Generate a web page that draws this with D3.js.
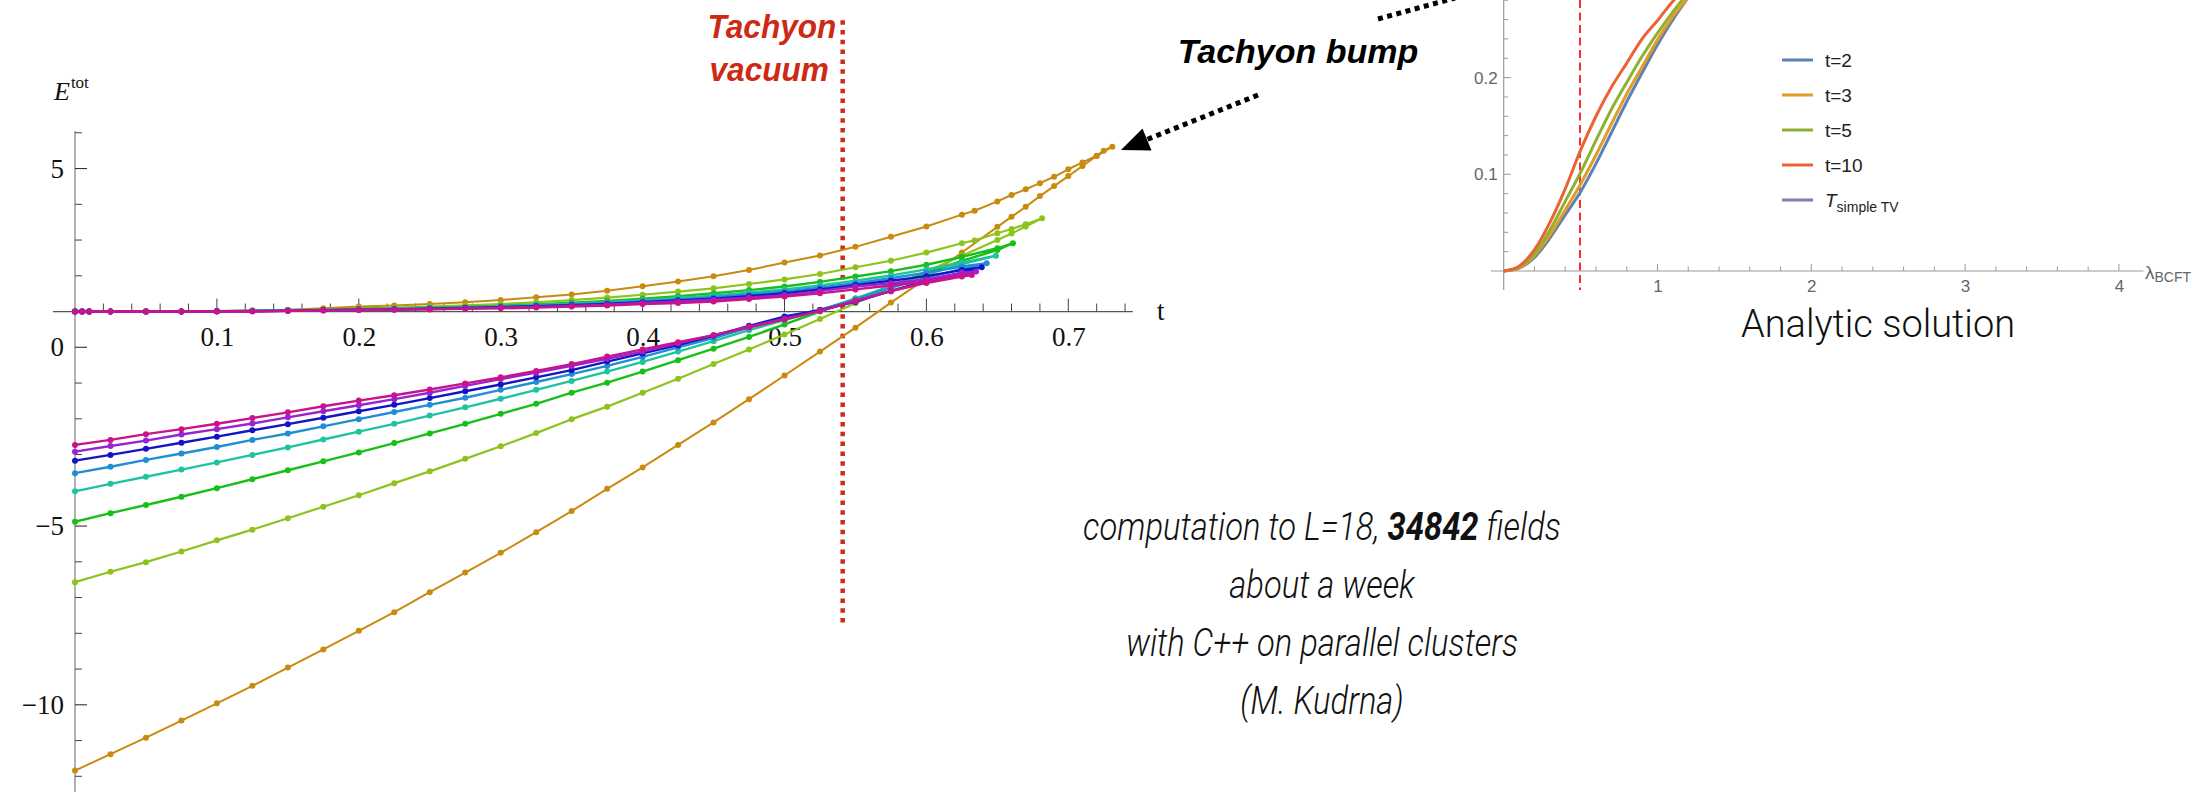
<!DOCTYPE html>
<html>
<head>
<meta charset="utf-8">
<script src="https://cdn.jsdelivr.net/npm/d3@7/dist/d3.min.js"></script>
<style>
  body { margin: 0; background: #fff; }
  svg { display: block; }
</style>
</head>
<body>
<svg id="chart"></svg>
<script>
// t grid of the lower branches and of the upper branches (upper has two extra points near 0)
const tGrid = [0, 0.025, 0.05, 0.075, 0.1, 0.125, 0.15, 0.175, 0.2, 0.225, 0.25, 0.275, 0.3,
  0.325, 0.35, 0.375, 0.4, 0.425, 0.45, 0.475, 0.5, 0.525, 0.55, 0.575, 0.6, 0.625];
const tUpGrid = [0, 0.005, 0.01, 0.025, 0.05, 0.075, 0.1, 0.125, 0.15, 0.175, 0.2, 0.225, 0.25, 0.275,
  0.3, 0.325, 0.35, 0.375, 0.4, 0.425, 0.45, 0.475, 0.5, 0.525, 0.55, 0.575, 0.6, 0.625];

// E^tot along each branch (lower: rising from t=0, turn: around max t, upper: back to t=0)
const orangeLow = [-11.84, -11.38, -10.92, -10.44, -9.96, -9.47, -8.96, -8.45, -7.93, -7.41, -6.85, -6.30, -5.75,
  -5.17, -4.58, -3.96, -3.36, -2.73, -2.10, -1.45, -0.79, -0.12, 0.55, 1.25, 1.93, 2.65];
const orangeTurn = [[0.65, 3.37], [0.66, 3.65], [0.67, 3.93], [0.68, 4.23], [0.69, 4.51], [0.70, 4.79], [0.71, 5.07],
  [0.72, 5.35], [0.731, 5.61], [0.725, 5.50], [0.72, 5.36], [0.71, 5.17], [0.70, 4.98], [0.69, 4.77], [0.68, 4.59],
  [0.67, 4.42], [0.66, 4.26], [0.65, 4.08], [0.634, 3.82]];
const orangeUp = [1, 1, 1, 1, 1, 1.01, 1.01, 1.03, 1.05, 1.09, 1.14, 1.17, 1.21, 1.26, 1.32, 1.40, 1.48, 1.58,
  1.71, 1.84, 1.99, 2.16, 2.37, 2.57, 2.81, 3.09, 3.38, 3.71];

const yellowGreenLow = [-6.57, -6.28, -6.01, -5.71, -5.40, -5.10, -4.78, -4.46, -4.14, -3.80, -3.47, -3.12, -2.77,
  -2.40, -2.01, -1.66, -1.27, -0.88, -0.47, -0.06, 0.36, 0.79, 1.23, 1.68, 2.12, 2.56];
const yellowGreenTurn = [[0.65, 3.0], [0.66, 3.18], [0.67, 3.38], [0.6815, 3.61], [0.67, 3.44], [0.66, 3.31],
  [0.65, 3.19], [0.634, 2.99]];
const yellowGreenUp = [1, 1, 1, 1, 1, 1, 1.01, 1.02, 1.04, 1.06, 1.09, 1.11, 1.14, 1.17, 1.21, 1.26, 1.32, 1.39,
  1.47, 1.56, 1.65, 1.77, 1.90, 2.05, 2.24, 2.42, 2.65, 2.91];

const greenLow = [-4.88, -4.64, -4.41, -4.18, -3.94, -3.69, -3.44, -3.19, -2.94, -2.68, -2.41, -2.14, -1.86,
  -1.58, -1.27, -0.99, -0.68, -0.36, -0.04, 0.29, 0.64, 1.0, 1.35, 1.72, 2.08, 2.42];
const greenTurn = [[0.65, 2.72], [0.661, 2.91], [0.65, 2.77]];
const greenUp = [1, 1, 1, 1, 1, 1, 1.01, 1.02, 1.03, 1.05, 1.07, 1.09, 1.11, 1.13, 1.16, 1.20, 1.25, 1.30,
  1.36, 1.43, 1.51, 1.60, 1.70, 1.83, 1.98, 2.13, 2.31, 2.53];

const tealLow = [-4.03, -3.82, -3.62, -3.42, -3.22, -3.01, -2.80, -2.58, -2.36, -2.14, -1.91, -1.68, -1.44,
  -1.19, -0.94, -0.68, -0.41, -0.12, 0.17, 0.48, 0.76, 1.02, 1.37, 1.71, 2.03, 2.33];
const tealTurn = [[0.649, 2.56]];
const tealUp = [1, 1, 1, 1, 1, 1, 1.01, 1.02, 1.03, 1.04, 1.06, 1.08, 1.09, 1.12, 1.14, 1.18, 1.22, 1.26,
  1.32, 1.38, 1.45, 1.53, 1.62, 1.73, 1.86, 2.01, 2.18, 2.37];

const lightBlueLow = [-3.52, -3.34, -3.15, -2.97, -2.79, -2.59, -2.41, -2.21, -2.01, -1.81, -1.61, -1.41, -1.19,
  -0.97, -0.75, -0.52, -0.27, 0.0, 0.26, 0.55, 0.82, 1.05, 1.34, 1.66, 1.95, 2.19];
const lightBlueTurn = [[0.6425, 2.35]];
const lightBlueUp = [1, 1, 1, 1, 1, 1, 1.01, 1.02, 1.03, 1.04, 1.06, 1.07, 1.09, 1.11, 1.13, 1.16, 1.20, 1.24,
  1.29, 1.34, 1.40, 1.48, 1.56, 1.67, 1.79, 1.93, 2.09, 2.26];

const blueLow = [-3.17, -3.01, -2.84, -2.67, -2.50, -2.32, -2.15, -1.97, -1.79, -1.61, -1.42, -1.23, -1.04,
  -0.84, -0.64, -0.40, -0.17, 0.06, 0.32, 0.60, 0.86, 1.04, 1.27, 1.58, 1.86, 2.08];
const blueTurn = [[0.639, 2.24]];
const blueUp = [1, 1, 1, 1, 1, 1, 1.01, 1.01, 1.02, 1.04, 1.05, 1.06, 1.08, 1.10, 1.12, 1.15, 1.18, 1.21,
  1.26, 1.31, 1.36, 1.43, 1.51, 1.62, 1.74, 1.86, 1.99, 2.16];

const purpleLow = [-2.92, -2.76, -2.61, -2.44, -2.29, -2.13, -1.96, -1.79, -1.62, -1.45, -1.27, -1.08, -0.89,
  -0.71, -0.52, -0.32, -0.12, 0.11, 0.34, 0.58, 0.80, 1.02, 1.29, 1.57, 1.82, 2.03];
const purpleTurn = [[0.635, 2.12]];
const purpleUp = [1, 1, 1, 1, 1, 1, 1.01, 1.01, 1.02, 1.03, 1.05, 1.06, 1.07, 1.09, 1.11, 1.13, 1.16, 1.19,
  1.24, 1.28, 1.33, 1.39, 1.46, 1.57, 1.70, 1.79, 1.90, 2.09];

const magentaLow = [-2.73, -2.59, -2.43, -2.29, -2.14, -1.98, -1.82, -1.65, -1.49, -1.34, -1.18, -1.01, -0.84,
  -0.66, -0.47, -0.26, -0.06, 0.14, 0.34, 0.56, 0.78, 1.02, 1.30, 1.57, 1.80, 1.98];
const magentaTurn = [[0.632, 2.02]];
const magentaUp = [1, 1, 1, 1, 1, 1, 1, 1.01, 1.02, 1.03, 1.04, 1.05, 1.06, 1.08, 1.09, 1.11, 1.14, 1.17,
  1.21, 1.24, 1.28, 1.35, 1.42, 1.51, 1.62, 1.73, 1.84, 2.02];

const yMajorTicks = [-10, -5, 0, 5];
const tLabelTicks = [0.1, 0.2, 0.3, 0.4, 0.5, 0.6, 0.7];
const vacuumT = 0.541;

// inset: analytic solution
const lambdaGrid = [0, 0.1, 0.2, 0.3, 0.4, 0.5, 0.6, 0.7, 0.8, 0.9, 1.0, 1.1, 1.2];
const insetT2 = [0, 0.003, 0.014, 0.034, 0.058, 0.082, 0.111, 0.143, 0.175, 0.205, 0.234, 0.26, 0.283];
const insetT3 = [0, 0.003, 0.016, 0.037, 0.063, 0.09, 0.12, 0.152, 0.183, 0.211, 0.239, 0.263, 0.283];
const insetT5 = [0, 0.004, 0.018, 0.042, 0.072, 0.102, 0.135, 0.167, 0.195, 0.222, 0.246, 0.268, 0.288];
const insetT10 = [0, 0.005, 0.022, 0.05, 0.085, 0.125, 0.16, 0.19, 0.215, 0.24, 0.259, 0.279, 0.295];
const insetXLabels = [1, 2, 3, 4];
const insetYLabels = [0.1, 0.2];
const insetVacuum = 0.496;

const W = 2201, H = 792;
const svg = d3.select("#chart").attr("width", W).attr("height", H);

// ---------- main plot ----------
const x = d3.scaleLinear().domain([0, 0.74]).range([75, 75 + 0.74 * 1419]);
const y = d3.scaleLinear().domain([-12, 6]).range([347.3 + 12 * 35.75, 347.3 - 6 * 35.75]);
const serif = "'Liberation Serif', 'Times New Roman', serif";

const main = svg.append("g");

// vertical E axis
main.append("line")
    .attr("x1", x(0)).attr("x2", x(0))
    .attr("y1", y(6.05)).attr("y2", H)
    .attr("stroke", "#888").attr("stroke-width", 1.3);

const yMinor = d3.range(-12, 7).filter(v => !yMajorTicks.includes(v));
main.selectAll(".yminor").data(yMinor).enter().append("line")
    .attr("x1", x(0)).attr("x2", x(0) + 7)
    .attr("y1", d => y(d)).attr("y2", d => y(d))
    .attr("stroke", "#444").attr("stroke-width", 1);
main.selectAll(".ymajor").data(yMajorTicks).enter().append("line")
    .attr("x1", x(0)).attr("x2", x(0) + 12)
    .attr("y1", d => y(d)).attr("y2", d => y(d))
    .attr("stroke", "#333").attr("stroke-width", 1.1);

const yAxis = main.append("g")
    .attr("transform", `translate(${x(0)},0)`)
    .call(d3.axisLeft(y).tickValues(yMajorTicks).tickSize(0).tickPadding(11));
yAxis.select(".domain").remove();
yAxis.selectAll("text")
    .attr("fill", "#111")
    .style("font-family", serif)
    .style("font-size", "27px");

// E^tot label
const eLab = main.append("text")
    .attr("x", 54).attr("y", 100)
    .style("font-family", serif).attr("fill", "#111");
eLab.append("tspan").style("font-style", "italic").style("font-size", "26px").text("E");
eLab.append("tspan").attr("dy", -12).attr("dx", 1).style("font-size", "17px").text("tot");

// horizontal t axis drawn at E = 1
const axisY = y(1);
main.append("line")
    .attr("x1", x(-0.0155)).attr("x2", x(0.7455))
    .attr("y1", axisY).attr("y2", axisY)
    .attr("stroke", "#555").attr("stroke-width", 1.3);
const tTicks = d3.range(1, 38).map(i => i * 0.02);
main.selectAll(".tt").data(tTicks).enter().append("line")
    .attr("x1", d => x(d)).attr("x2", d => x(d))
    .attr("y1", axisY)
    .attr("y2", d => axisY - (Math.abs(d * 10 - Math.round(d * 10)) < 1e-6 ? 13 : 8))
    .attr("stroke", "#444").attr("stroke-width", 1);

const xAxis = main.append("g")
    .attr("transform", `translate(0,${axisY})`)
    .call(d3.axisBottom(x).tickValues(tLabelTicks).tickSize(0).tickPadding(15).tickFormat(d3.format(".1f")));
xAxis.select(".domain").remove();
xAxis.selectAll("text")
    .attr("fill", "#111")
    .style("font-family", serif)
    .style("font-size", "27px");

main.append("text")
    .attr("x", 1157).attr("y", 320)
    .style("font-family", serif).style("font-size", "27px")
    .attr("fill", "#111").text("t");

// tachyon vacuum marker
main.append("line")
    .attr("x1", x(vacuumT)).attr("x2", x(vacuumT))
    .attr("y1", y(9.15)).attr("y2", y(-7.7))
    .attr("stroke", "#d3291c").attr("stroke-width", 4.5)
    .attr("stroke-dasharray", "4.5 5.3");

const tv = main.append("g")
    .attr("transform", "translate(772,0) scale(0.93,1)")
    .style("font-family", "'Liberation Sans', Arial, sans-serif")
    .style("font-weight", "bold").style("font-style", "italic")
    .style("font-size", "34px").attr("fill", "#cc2a14")
    .attr("text-anchor", "middle");
tv.append("text").attr("x", 0).attr("y", 38).text("Tachyon");
tv.append("text").attr("x", -3).attr("y", 81).text("vacuum");

// series
const series = [
  { color: "#c98a10", low: orangeLow, turn: orangeTurn, up: orangeUp, w: 2 },
  { color: "#8dc41c", low: yellowGreenLow, turn: yellowGreenTurn, up: yellowGreenUp, w: 2.2 },
  { color: "#17bf17", low: greenLow, turn: greenTurn, up: greenUp, w: 2.4 },
  { color: "#1fc3a0", low: tealLow, turn: tealTurn, up: tealUp, w: 2.4 },
  { color: "#1f8fd3", low: lightBlueLow, turn: lightBlueTurn, up: lightBlueUp, w: 2.4 },
  { color: "#1414c4", low: blueLow, turn: blueTurn, up: blueUp, w: 2.4 },
  { color: "#9a22d2", low: purpleLow, turn: purpleTurn, up: purpleUp, w: 2.4 },
  { color: "#c9138c", low: magentaLow, turn: magentaTurn, up: magentaUp, w: 2.4 }
];

const line = d3.line().x(d => x(d[0])).y(d => y(d[1]));

series.forEach(s => {
  const pts = s.low.map((e, i) => [tGrid[i], e])
      .concat(s.turn)
      .concat(s.up.map((e, i) => [tUpGrid[i], e]).reverse());
  const g = main.append("g");
  g.append("path")
      .datum(pts)
      .attr("d", line)
      .attr("fill", "none")
      .attr("stroke", s.color)
      .attr("stroke-width", s.w)
      .attr("stroke-linejoin", "round");
  g.selectAll("circle").data(pts).enter().append("circle")
      .attr("cx", d => x(d[0])).attr("cy", d => y(d[1]))
      .attr("r", 3)
      .attr("fill", s.color);
});

// ---------- annotations ----------
const ann = svg.append("g");
ann.append("line")
    .attr("x1", 1378).attr("y1", 19).attr("x2", 1455).attr("y2", -2)
    .attr("stroke", "#000").attr("stroke-width", 5).attr("stroke-dasharray", "5 4.5");
ann.append("line")
    .attr("x1", 1258).attr("y1", 95).attr("x2", 1147).attr("y2", 139.5)
    .attr("stroke", "#000").attr("stroke-width", 5).attr("stroke-dasharray", "5 4.5");
ann.append("path")
    .attr("d", "M1121,150 L1151.5,150.6 L1142.5,128.4 Z")
    .attr("fill", "#000");
ann.append("text")
    .attr("x", 1298).attr("y", 63)
    .attr("text-anchor", "middle")
    .style("font-family", "'Liberation Sans', Arial, sans-serif")
    .style("font-weight", "bold").style("font-style", "italic")
    .style("font-size", "34px").attr("fill", "#000")
    .text("Tachyon bump");

// ---------- inset ----------
const lx = d3.scaleLinear().domain([0, 4]).range([1503.7, 1503.7 + 4 * 153.8]);
const ly = d3.scaleLinear().domain([0, 0.1]).range([271, 174.3]);
const inset = svg.append("g");
const sans = "'Liberation Sans', Arial, sans-serif";

inset.append("line")
    .attr("x1", lx(0)).attr("x2", lx(0)).attr("y1", 0).attr("y2", 290)
    .attr("stroke", "#999").attr("stroke-width", 1.2);
inset.append("line")
    .attr("x1", 1491).attr("x2", lx(4.16)).attr("y1", ly(0)).attr("y2", ly(0))
    .attr("stroke", "#999").attr("stroke-width", 1.2);

const lyTicks = d3.range(1, 15).map(i => i * 0.02);
inset.selectAll(".iyt").data(lyTicks).enter().append("line")
    .attr("x1", lx(0)).attr("x2", d => lx(0) + (Math.abs(d * 10 - Math.round(d * 10)) < 1e-6 ? 7 : 4.5))
    .attr("y1", d => ly(d)).attr("y2", d => ly(d))
    .attr("stroke", "#999").attr("stroke-width", 1);
const lxTicks = d3.range(1, 21).map(i => i * 0.2);
inset.selectAll(".ixt").data(lxTicks).enter().append("line")
    .attr("x1", d => lx(d)).attr("x2", d => lx(d))
    .attr("y1", ly(0)).attr("y2", d => ly(0) - (Math.abs(d - Math.round(d)) < 1e-6 ? 7 : 4.5))
    .attr("stroke", "#999").attr("stroke-width", 1);

const ixAxis = inset.append("g")
    .attr("transform", `translate(0,${ly(0)})`)
    .call(d3.axisBottom(lx).tickValues(insetXLabels).tickSize(0).tickPadding(9).tickFormat(d3.format("d")));
ixAxis.select(".domain").remove();
ixAxis.selectAll("text").attr("fill", "#666").style("font-family", sans).style("font-size", "17px");

const iyAxis = inset.append("g")
    .attr("transform", `translate(${lx(0)},0)`)
    .call(d3.axisLeft(ly).tickValues(insetYLabels).tickSize(0).tickPadding(6).tickFormat(d3.format(".1f")));
iyAxis.select(".domain").remove();
iyAxis.selectAll("text").attr("fill", "#666").style("font-family", sans).style("font-size", "17px");

const lamLab = inset.append("text").attr("x", 2145).attr("y", 279)
    .style("font-family", sans).attr("fill", "#666");
lamLab.append("tspan").style("font-size", "19px").text("λ");
lamLab.append("tspan").attr("dy", 3).style("font-size", "14px").text("BCFT");

inset.append("line")
    .attr("x1", lx(insetVacuum)).attr("x2", lx(insetVacuum))
    .attr("y1", 0).attr("y2", 290)
    .attr("stroke", "#ff2b2b").attr("stroke-width", 2)
    .attr("stroke-dasharray", "8 4.5");

const insetSeries = [
  { label: "t=2", color: "#5e81b5", vals: insetT2 },
  { label: "t=3", color: "#e19c24", vals: insetT3 },
  { label: "t=5", color: "#8fb131", vals: insetT5 },
  { label: "t=10", color: "#eb6235", vals: insetT10 }
];
const iline = d3.line().x(d => lx(d[0])).y(d => ly(d[1])).curve(d3.curveMonotoneX);
insetSeries.forEach(s => {
  inset.append("path")
      .datum(lambdaGrid.map((l, i) => [l, s.vals[i]]))
      .attr("d", iline)
      .attr("fill", "none")
      .attr("stroke", s.color)
      .attr("stroke-width", 3);
});

// legend
const legendItems = insetSeries.map(s => ({ label: s.label, color: s.color }))
    .concat([{ label: null, color: "#8778b3" }]);
const leg = inset.append("g");
legendItems.forEach((d, i) => {
  const ly0 = 60 + i * 35;
  leg.append("line")
      .attr("x1", 1782).attr("x2", 1813).attr("y1", ly0).attr("y2", ly0)
      .attr("stroke", d.color).attr("stroke-width", 3);
  const t = leg.append("text").attr("x", 1825).attr("y", ly0 + 7)
      .style("font-family", sans).style("font-size", "19px").attr("fill", "#222");
  if (d.label) {
    t.text(d.label);
  } else {
    t.append("tspan").style("font-style", "italic").text("T");
    t.append("tspan").attr("dy", 5).style("font-size", "14px").text("simple TV");
  }
});

inset.append("text")
    .attr("x", 1878).attr("y", 337)
    .attr("text-anchor", "middle")
    .style("font-family", "Roboto, 'Liberation Sans', sans-serif")
    .style("font-weight", 300)
    .style("font-size", "38px")
    .attr("fill", "#111")
    .text("Analytic solution");

// ---------- notes ----------
const notes = svg.append("g")
    .attr("transform", "translate(1322,0) scale(0.84,1)")
    .attr("text-anchor", "middle")
    .style("font-family", "Roboto, 'Liberation Sans', sans-serif")
    .style("font-style", "italic")
    .style("font-weight", 300)
    .style("font-size", "39px")
    .attr("fill", "#111");
const l1 = notes.append("text").attr("x", 0).attr("y", 540);
l1.append("tspan").text("computation to L=18, ");
l1.append("tspan").style("font-weight", 700).text("34842");
l1.append("tspan").text(" fields");
notes.append("text").attr("x", 0).attr("y", 598).text("about a week");
notes.append("text").attr("x", 0).attr("y", 656).text("with C++ on parallel clusters");
notes.append("text").attr("x", 0).attr("y", 714).text("(M. Kudrna)");
</script>
</body>
</html>
